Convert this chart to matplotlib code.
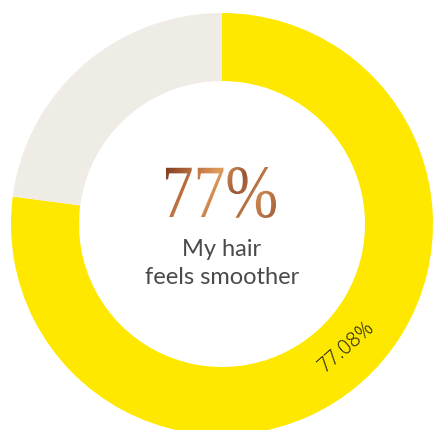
import numpy as np
import matplotlib
matplotlib.use("Agg")
import matplotlib.pyplot as plt
from matplotlib.textpath import TextPath
from matplotlib.font_manager import FontProperties
from matplotlib.patches import PathPatch
from matplotlib.transforms import Affine2D
from matplotlib.colors import LinearSegmentedColormap

# ---- data ----
categories = ["My hair feels smoother", "Other"]
values = [77.08, 22.92]
colors = ["#FEE800", "#EFECE6"]
big_label = "77%"
caption_lines = ["My hair", "feels smoother"]
slice_label = "77.08%"

W, H = 434, 430
fig = plt.figure(figsize=(W / 100, H / 100), dpi=100)
ax = fig.add_axes([0, 0, 1, 1])
ax.set_xlim(0, W)
ax.set_ylim(0, H)
ax.axis("off")

cx, cy = 222, H - 224
r_out, r_in = 211, 143
wedges, _ = ax.pie(values, colors=colors, startangle=90, counterclock=False,
                   center=(cx, cy), radius=r_out,
                   wedgeprops=dict(width=r_out - r_in, linewidth=0))
ax.set_xlim(0, W)
ax.set_ylim(0, H)

# slice label near mid-angle of first wedge
w = wedges[0]
mid_deg = (w.theta1 + w.theta2) / 2
pos = np.deg2rad(mid_deg + 4.2)
rm = (r_in + r_out) / 2 - 2
ax.text(cx + rm * np.cos(pos), cy + rm * np.sin(pos), slice_label,
        rotation=mid_deg + 90, rotation_mode="anchor",
        ha="center", va="center", fontsize=14.5, family="Open Sans",
        fontweight="light", color="#1e1e18", zorder=5)

# gradient big number
fp = FontProperties(family="Liberation Serif")
tp = TextPath((0, 0), big_label, size=100, prop=fp)
ext = tp.get_extents()
x0, x1, y0, y1 = 166, 276, H - 218, H - 167
tr = Affine2D().translate(-ext.x0, -ext.y0).scale((x1 - x0) / ext.width,
                                                   (y1 - y0) / ext.height).translate(x0, y0)
path = tr.transform_path(tp)
patch = PathPatch(path, facecolor="none", edgecolor="none", transform=ax.transData)
ax.add_patch(patch)
cmap = LinearSegmentedColormap.from_list("copper2", ["#7E3F24", "#B86C3E", "#E39C5E", "#9A5634", "#C9844E", "#A35E37"])
gx = np.linspace(0, 1, 200)
gy = np.linspace(0, 1, 60)
GX, GY = np.meshgrid(gx, gy)
grad = (GX * 0.8 + (1 - GY) * 0.2)
im = ax.imshow(grad, cmap=cmap, extent=(x0, x1, y0, y1), origin="lower",
               interpolation="bilinear", aspect="auto", zorder=3)
im.set_clip_path(patch)
ax.set_xlim(0, W)
ax.set_ylim(0, H)

ax.text(cx, H - 249, caption_lines[0], ha="center", va="center",
        fontsize=17, family="Lato", color="#4a4a4c")
ax.text(cx, H - 277, caption_lines[1], ha="center", va="center",
        fontsize=17, family="Lato", color="#4a4a4c")

fig.savefig("out.png", dpi=100, facecolor="white")
